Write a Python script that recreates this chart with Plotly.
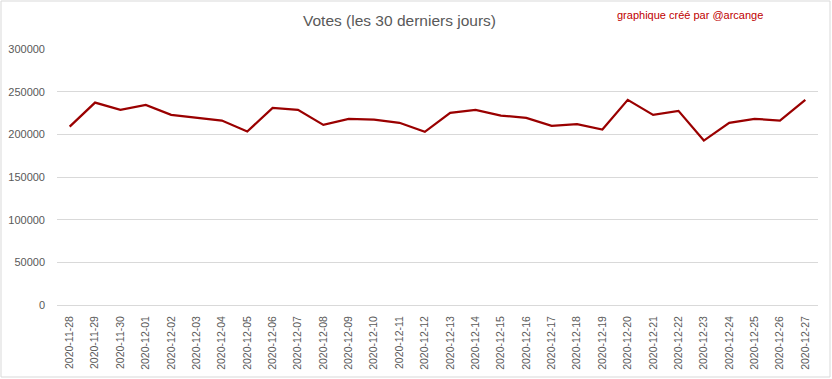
import plotly.graph_objects as go

dates = ["2020-11-28", "2020-11-29", "2020-11-30", "2020-12-01", "2020-12-02", "2020-12-03",
         "2020-12-04", "2020-12-05", "2020-12-06", "2020-12-07", "2020-12-08", "2020-12-09",
         "2020-12-10", "2020-12-11", "2020-12-12", "2020-12-13", "2020-12-14", "2020-12-15",
         "2020-12-16", "2020-12-17", "2020-12-18", "2020-12-19", "2020-12-20", "2020-12-21",
         "2020-12-22", "2020-12-23", "2020-12-24", "2020-12-25", "2020-12-26", "2020-12-27"]
votes = [209000, 237200, 228700, 234500, 222800, 219700,
         216200, 203300, 231000, 228700, 211100, 218100,
         217300, 213500, 202900, 225200, 228700, 222000,
         219300, 210000, 211900, 205600, 240400, 222800,
         227500, 192700, 213500, 218100, 216200, 240400]

W, H = 832, 379
L, R, T, B = 57, 14, 49, 74
pw, ph = W - L - R, H - T - B

def px(x):
    return (x - L) / pw

def py(y):
    return (H - B - y) / ph

fig = go.Figure()
fig.add_trace(go.Scatter(
    x=dates, y=votes, mode="lines",
    line=dict(color="#9A0000", width=2.25),
    hoverinfo="x+y",
))

fig.update_layout(
    width=W, height=H,
    margin=dict(l=L, r=R, t=T, b=B, autoexpand=False),
    paper_bgcolor="white", plot_bgcolor="white",
    showlegend=False,
    font=dict(family="Liberation Sans, Arial, sans-serif", color="#595959", size=11),
    xaxis=dict(
        type="category", range=[-0.5, 29.5],
        tickangle=-90, tickfont=dict(size=10.5, color="#595959"),
        showgrid=False, showline=False, ticks="", zeroline=False,
        ticklabelstandoff=8, automargin=False,
    ),
    yaxis=dict(
        range=[0, 300000], dtick=50000, tickformat="d",
        gridcolor="#D9D9D9", gridwidth=1,
        zeroline=True, zerolinecolor="#D9D9D9", zerolinewidth=1,
        showline=False, ticks="", ticklabelstandoff=11, automargin=False,
        tickfont=dict(size=11, color="#595959"),
    ),
    annotations=[
        dict(text="Votes (les 30 derniers jours)", xref="paper", yref="paper",
             x=px(399), y=py(20), xanchor="center", yanchor="middle", showarrow=False,
             font=dict(size=15.5, color="#595959", family="Liberation Sans, Arial, sans-serif")),
        dict(text="graphique créé par @arcange", xref="paper", yref="paper",
             x=px(765), y=py(15), xanchor="right", yanchor="middle", showarrow=False,
             font=dict(size=11, color="#C00000", family="Liberation Sans, Arial, sans-serif")),
    ],
    shapes=[
        dict(type="rect", xref="paper", yref="paper",
             x0=px(1), x1=px(830), y0=py(377), y1=py(1),
             line=dict(color="#D9D9D9", width=1), fillcolor="rgba(0,0,0,0)", layer="below"),
    ],
)

fig.write_html("out.html", config={"displayModeBar": False},
               post_script="document.body.style.margin='0';document.body.style.overflow='hidden';")
